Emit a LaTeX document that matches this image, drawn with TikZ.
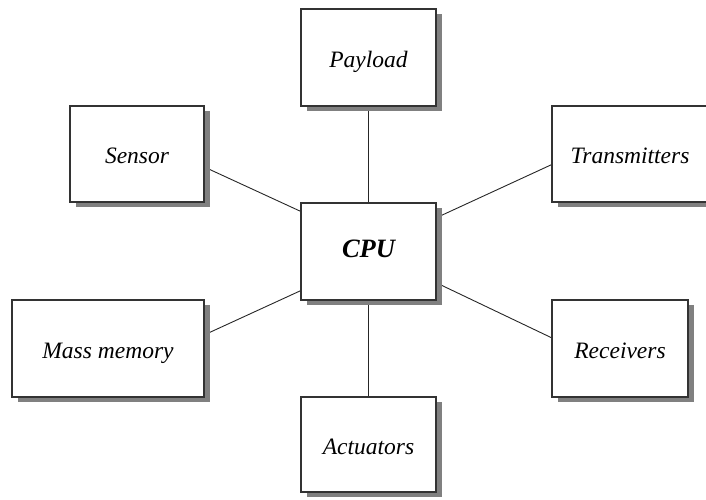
\documentclass[tikz,border=0pt]{standalone}
\usepackage{fontspec}
\setmainfont{Liberation Serif}
\usetikzlibrary{shadows,backgrounds,calc}

\tikzset{
  unit/.style={draw=black!80, line width=1.1pt, fill=white, inner sep=0pt,
    text height=19pt, text depth=0pt,
    font=\fontsize{23.5}{26}\selectfont\itshape,
    drop shadow={shadow xshift=6pt, shadow yshift=-5pt, fill=black!50, opacity=1}},
  link/.style={draw=black!85, line width=0.9pt}
}

\begin{document}
\begin{tikzpicture}[x=1pt, y=-1pt]
  \useasboundingbox (0,0) rectangle (706,499);

  % central processor and the units around it
  \node[unit, minimum width=135pt, minimum height=97pt, text height=11pt,
        font=\fontsize{26.5}{30}\selectfont\bfseries\itshape] (cpu) at (368.5,251.5) {CPU};
  \node[unit, minimum width=135pt, minimum height=97pt] (payload) at (368.5,57.5) {Payload};
  \node[unit, minimum width=135pt, minimum height=95pt] (act) at (368.5,444.5) {Actuators};
  \node[unit, minimum width=134pt, minimum height=96pt] (sensor) at (137,154) {Sensor};
  \node[unit, minimum width=192pt, minimum height=97pt] (mass) at (108,348.5) {Mass memory};
  \node[unit, minimum width=156pt, minimum height=96pt] (tx) at (630,154) {Transmitters};
  \node[unit, minimum width=136pt, minimum height=97pt] (rx) at (620,348.5) {Receivers};

  % connections, kept behind the boxes and their shadows
  \begin{scope}[on background layer]
    \draw[link] (payload.south) -- (cpu.north);
    \draw[link] (cpu.south) -- (act.north);
    \draw[link] ($(sensor.north east)!0.635!(sensor.south east)$) -- ($(cpu.north west)!0.09!(cpu.south west)$);
    \draw[link] ($(mass.north east)!0.36!(mass.south east)$) -- ($(cpu.north west)!0.9!(cpu.south west)$);
    \draw[link] ($(tx.north west)!0.61!(tx.south west)$) -- ($(cpu.north east)!0.155!(cpu.south east)$);
    \draw[link] ($(rx.north west)!0.39!(rx.south west)$) -- ($(cpu.north east)!0.82!(cpu.south east)$);
  \end{scope}
\end{tikzpicture}
\end{document}
